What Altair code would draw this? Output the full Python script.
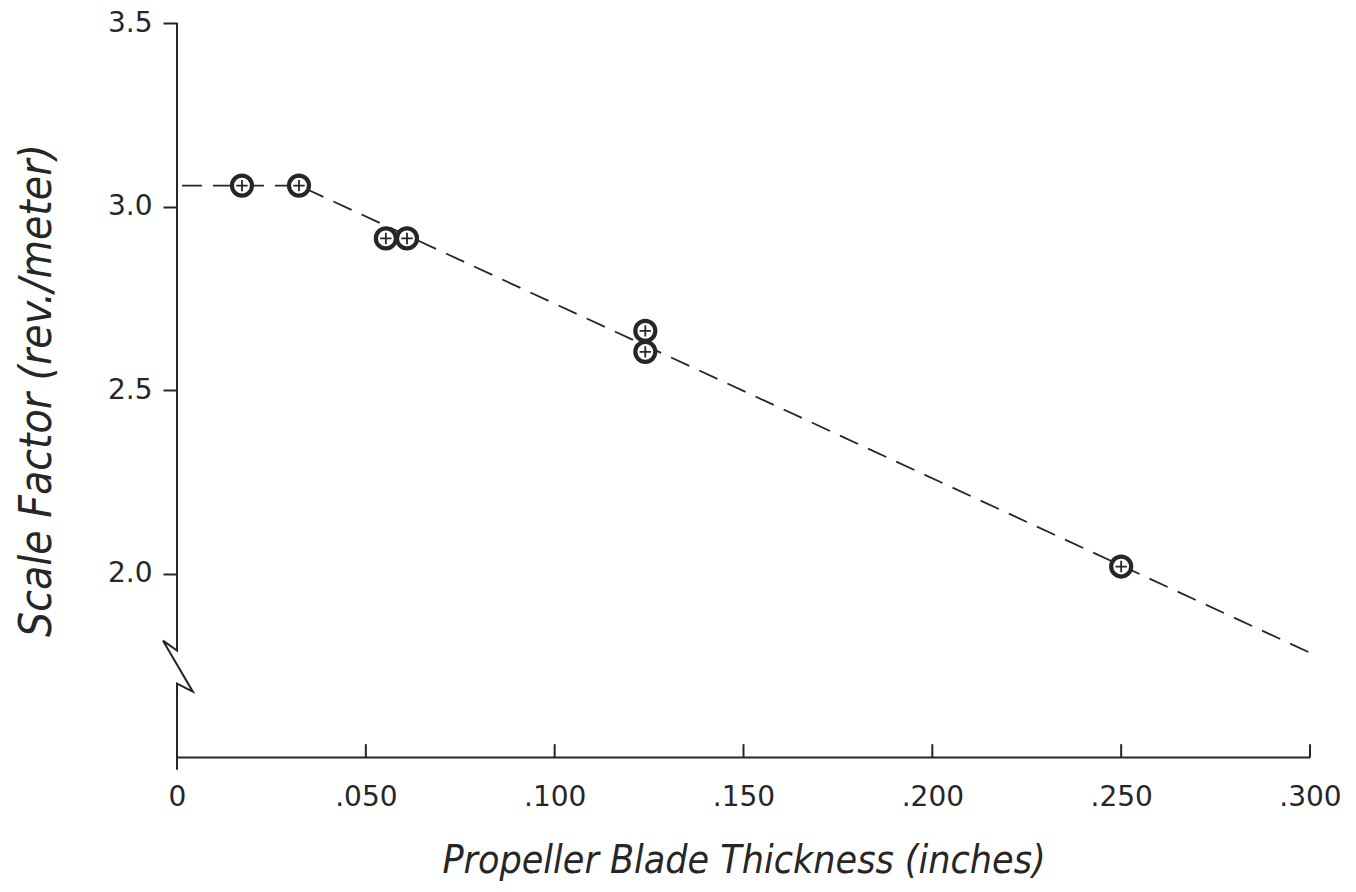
import altair as alt
import pandas as pd

# Measured points (propeller blade thickness in inches, scale factor rev./meter)
thickness = [0.0172, 0.0323, 0.0553, 0.0609, 0.124, 0.124, 0.250]
scale_factor = [3.057, 3.057, 2.913, 2.913, 2.661, 2.604, 2.019]

# Dashed fitted line
fit_thickness = [0.0013, 0.0323, 0.300]
fit_scale = [3.057, 3.057, 1.784]

# Axis ticks
x_ticks = [0.05, 0.10, 0.15, 0.20, 0.25, 0.30]
x_label_values = [0.0, 0.05, 0.10, 0.15, 0.20, 0.25, 0.30]
y_ticks = [2.0, 2.5, 3.0, 3.5]

# Left axis line with the axis-break zigzag
axis_line_x = [0.0, 0.0, -0.0037, 0.0042, 0.0, 0.0]
axis_line_y = [3.5, 1.790, 1.817, 1.678, 1.700, 1.465]

INK = "#262626"
LABEL_FONT = "DejaVu Sans"
TITLE_FONT = "DejaVu Sans Condensed, Liberation Sans Narrow, sans-serif"

pts = pd.DataFrame({"x": thickness, "y": scale_factor})
fit = pd.DataFrame({"x": fit_thickness, "y": fit_scale, "o": range(len(fit_thickness))})
ticks = pd.DataFrame({"x": x_ticks, "y": [1.5] * len(x_ticks), "y2": [1.535] * len(x_ticks)})
axl = pd.DataFrame({"x": axis_line_x, "y": axis_line_y, "o": range(len(axis_line_x))})

x_scale = alt.Scale(domain=[0, 0.3], nice=False, zero=False)
y_scale = alt.Scale(domain=[1.5, 3.5], nice=False, zero=False)

x_axis = alt.Axis(
    values=x_label_values,
    labelExpr="datum.value == 0 ? '0' : replace(format(datum.value, '.3f'), '0.', '.')",
    ticks=False, tickSize=0, grid=False, labelFlush=False,
    domain=True, domainColor=INK, domainWidth=2,
    labelFont=LABEL_FONT, labelFontSize=28, labelColor=INK, labelPadding=26,
    title="Propeller Blade Thickness (inches)",
    titleFont=TITLE_FONT, titleFontSize=39, titleFontStyle="italic", titleFontWeight="normal",
    titleColor=INK, titlePadding=30,
)
y_axis = alt.Axis(
    values=y_ticks, format=".1f",
    ticks=True, tickSize=14, tickWidth=2, tickColor=INK, grid=False, labelFlush=False,
    domain=False,
    labelFont=LABEL_FONT, labelFontSize=28, labelColor=INK, labelPadding=11,
    title="Scale Factor (rev./meter)",
    titleFont=TITLE_FONT, titleFontSize=44, titleFontStyle="italic", titleFontWeight="normal",
    titleColor=INK, titlePadding=48,
)

X = alt.X("x:Q", scale=x_scale, axis=x_axis)
Y = alt.Y("y:Q", scale=y_scale, axis=y_axis)

fit_line = alt.Chart(fit).mark_line(
    color=INK, strokeWidth=1.8, strokeDash=[20, 11]
).encode(x=X, y=Y, order="o:Q")

axis_line = alt.Chart(axl).mark_line(
    color=INK, strokeWidth=2
).encode(x=X, y=Y, order="o:Q")

tick_marks = alt.Chart(ticks).mark_rule(color=INK, strokeWidth=2).encode(
    x=X, y=Y, y2="y2:Q"
)

circles = alt.Chart(pts).mark_point(
    shape="circle", size=400, filled=True, fill="white", stroke=INK, strokeWidth=4.2, opacity=1
).encode(x=X, y=Y)

crosses = alt.Chart(pts).mark_point(
    shape="M-1,0H1M0,-1V1", size=130, filled=False, stroke=INK, strokeWidth=1.8, opacity=1
).encode(x=X, y=Y)

chart = alt.layer(axis_line, tick_marks, fit_line, circles, crosses).properties(
    width=1133,
    height=734,
    autosize=alt.AutoSizeParams(type="none"),
    padding={"left": 177, "top": 23, "right": 46, "bottom": 135},
    background="white",
).configure_view(stroke=None)

chart.save("out.html", embed_options={"renderer": "svg", "actions": False})
